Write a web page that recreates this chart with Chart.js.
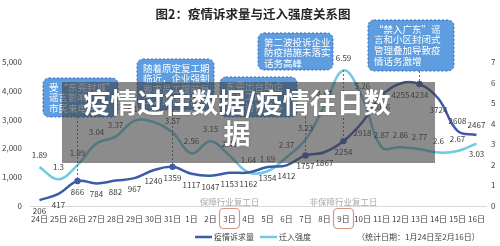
<!DOCTYPE html>
<html><head><meta charset="utf-8">
<script src="https://cdn.jsdelivr.net/npm/chart.js@4/dist/chart.umd.min.js"></script>
<style>html,body{margin:0;padding:0;background:#fff;}#wrap{width:500px;height:246px;position:relative;}</style>
</head><body><div id="wrap"><canvas id="c" width="500" height="246"></canvas></div>
<script>
const categories = ['24日','25日','26日','27日','28日','29日','30日','31日','1日','2日','3日','4日','5日','6日','7日','8日','9日','10日','11日','12日','13日','14日','15日','16日'];
const complaints = [206,417,866,784,882,967,1240,1359,1117,1047,1153,1162,1354,1412,1757,1867,2254,2918,3826,4255,4234,3724,2608,2467];
const migration = [1.89,1.3,1.99,3.04,3.37,4.14,4.08,3.57,2.56,3.15,2.45,1.64,1.69,2.37,3.23,4.87,6.59,5.26,2.87,2.86,2.77,2.6,2.67,3.03];
const leftTicks = [0,1000,2000,3000,4000,5000];
const rightTicks = [0,1,2,3,4,5,6,7];
const seriesNames = ['疫情诉求量','迁入强度'];
const highlightIdx = [2,7,14,16,20];
const titleText = '图2：疫情诉求量与迁入强度关系图';
const dateNote = '（统计日期：1月24日至2月16日）';
const overlayLines = ['疫情过往数据/疫情往日数','据'];

const FONT = '"Noto Sans CJK SC","Noto Sans",sans-serif';
Chart.defaults.font.family = FONT;
const DARK = '#3d5ca8', LIGHT = '#72c9e3';

// label placement styles (not data)
const complaintAbove = [22,23];
const migrationBelow = [23];

const notes = [
  {idx:2,  x:43,  y:78, w:75, h:39, lines:['受“东莞封城”','谣言影响，','市民来电咨询']},
  {idx:7,  x:137, y:59, w:77, h:51, lines:['随着原定复工期','临近，企业强制','要求员工提前复','工，投诉增加']},
  {idx:14, x:220, y:77, w:77, h:40, lines:['东莞出台助企','业复工政策，','企业咨询增多']},
  {idx:16, x:258, y:33, w:75, h:37, lines:['第二波投诉企业','防疫措施未落实','话务高峰']},
  {idx:20, x:368, y:20, w:86, h:51, lines:['“禁入广东”谣','言和小区封闭式','管理叠加导致疫','情话务激增']}
];

function rr(ctx,x,y,w,h,r){ctx.beginPath();ctx.roundRect(x,y,w,h,r);}

const decor = {
  id:'decor',
  afterDatasetsDraw(chart){
    const ctx = chart.ctx, xs = chart.scales.x;
    const m0 = chart.getDatasetMeta(0).data, m1 = chart.getDatasetMeta(1).data;
    ctx.save();
    ctx.setLineDash([2,2]); ctx.strokeStyle='#6b6b6b'; ctx.lineWidth=1;
    notes.forEach(n=>{
      const p = m0[n.idx];
      ctx.beginPath(); ctx.moveTo(p.x, n.y+n.h); ctx.lineTo(p.x, p.y); ctx.stroke();
    });
    ctx.setLineDash([]);
    ctx.font = '8px '+FONT; ctx.fillStyle='#3a3a3a'; ctx.textAlign='center'; ctx.textBaseline='middle';
    m0.forEach((p,i)=>{
      const dy = complaintAbove.includes(i) ? -10 : 11;
      ctx.fillText(String(complaints[i]), p.x, p.y+dy);
    });
    m1.forEach((p,i)=>{
      const dy = migrationBelow.includes(i) ? 10 : -12;
      ctx.fillText(String(migration[i]), p.x, p.y+dy);
    });
    ctx.strokeStyle='#dc9580'; ctx.lineWidth=1.2;
    [10,16].forEach(i=>{const x=xs.getPixelForValue(i); rr(ctx,x-10,208.5,20,20,4); ctx.stroke();});
    ctx.fillStyle='#a8a8a8'; ctx.font='8.5px '+FONT;
    ctx.fillText('保障行业复工日', xs.getPixelForValue(10), 202);
    ctx.fillText('非保障行业复工日', xs.getPixelForValue(16), 202);
    notes.forEach(n=>{
      rr(ctx,n.x,n.y,n.w,n.h,6);
      ctx.fillStyle='#5d9de0'; ctx.fill();
      ctx.setLineDash([2,2]); ctx.strokeStyle='#3b69b0'; ctx.lineWidth=1; ctx.stroke(); ctx.setLineDash([]);
      ctx.fillStyle='#ffffff'; ctx.font='9.5px '+FONT; ctx.textAlign='left'; ctx.textBaseline='middle';
      n.lines.forEach((t,k)=>ctx.fillText(t, n.x+6, n.y+9+k*10.7));
    });
    ctx.restore();
  },
  afterDraw(chart){
    const ctx = chart.ctx;
    ctx.save();
    ctx.fillStyle='#262626'; ctx.font='bold 12.5px '+FONT; ctx.textAlign='center'; ctx.textBaseline='middle';
    ctx.fillText(titleText, 253, 14);
    ctx.lineWidth=2.5;
    ctx.strokeStyle=DARK; ctx.beginPath(); ctx.moveTo(195,237); ctx.lineTo(212,237); ctx.stroke();
    ctx.strokeStyle=LIGHT; ctx.beginPath(); ctx.moveTo(260,237); ctx.lineTo(277,237); ctx.stroke();
    ctx.fillStyle='#404040'; ctx.font='8px '+FONT; ctx.textAlign='left';
    ctx.fillText(seriesNames[0], 214, 237);
    ctx.fillText(seriesNames[1], 279, 237);
    ctx.fillText(dateNote, 357, 237);
    ctx.fillStyle='rgba(64,64,64,0.6)';
    ctx.fillRect(62,82,373,81);
    ctx.fillStyle='#ffffff'; ctx.font='bold 27px '+FONT; ctx.textAlign='center';
    ctx.shadowColor='rgba(0,0,0,0.35)'; ctx.shadowBlur=2;
    ctx.fillText(overlayLines[0], 237, 103);
    ctx.fillText(overlayLines[1], 237, 134);
    ctx.restore();
  }
};

new Chart(document.getElementById('c'), {
  type:'line',
  data:{
    labels: categories,
    datasets:[
      {label:seriesNames[0], data:complaints, yAxisID:'y', borderColor:DARK, backgroundColor:DARK, borderWidth:2.5, tension:0.4,
       pointRadius:c=>highlightIdx.includes(c.dataIndex)?3.2:0, pointBackgroundColor:DARK, pointBorderWidth:0},
      {label:seriesNames[1], data:migration, yAxisID:'y1', borderColor:LIGHT, backgroundColor:LIGHT, borderWidth:2.5, tension:0.4, pointRadius:0}
    ]
  },
  options:{
    responsive:false, animation:false, devicePixelRatio:1,
    layout:{padding:{top:62,bottom:20,left:0,right:0}},
    plugins:{legend:{display:false}, tooltip:{enabled:false}, title:{display:false}},
    scales:{
      x:{offset:true, grid:{display:false, drawTicks:false}, border:{display:true,color:'#d9d9d9'},
         ticks:{autoSkip:false, maxRotation:0, padding:8, color:'#404040', font:{size:8}},
         afterFit(s){s.height=20;}},
      y:{position:'left', min:0, max:5000, grid:{display:false, drawTicks:false}, border:{display:false},
         afterBuildTicks(s){s.ticks=leftTicks.map(v=>({value:v}));},
         ticks:{padding:8, color:'#404040', font:{size:8}}, afterFit(s){s.width=30;}},
      y1:{position:'right', min:0, max:7, grid:{display:false, drawTicks:false}, border:{display:false},
         afterBuildTicks(s){s.ticks=rightTicks.map(v=>({value:v}));},
         ticks:{padding:5, color:'#404040', font:{size:8}}, afterFit(s){s.width=14;}}
    }
  },
  plugins:[decor]
});
</script></body></html>
